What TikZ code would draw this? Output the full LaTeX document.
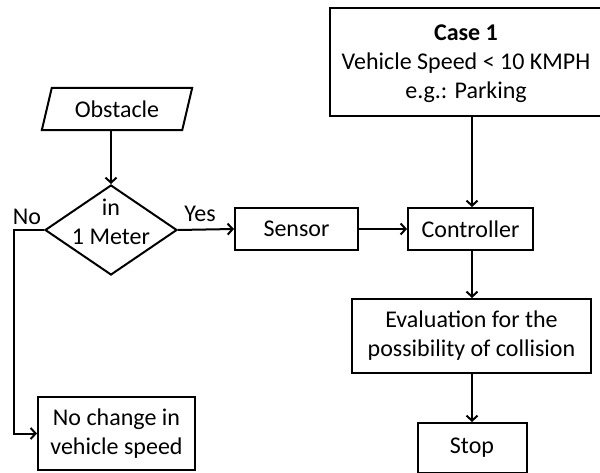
\documentclass[tikz,border=0pt]{standalone}
\usepackage{fontspec}
\setmainfont{Carlito}
\usetikzlibrary{shapes.geometric,arrows.meta}
\begin{document}
\begin{tikzpicture}[x=1pt,y=-1pt,
  every node/.style={font=\fontsize{24}{29}\selectfont},
  box/.style={draw,line width=2pt,rectangle,align=center,inner sep=0pt},
  decision/.style={draw,line width=2pt,diamond,inner sep=0pt},
  flow/.style={line width=2pt,-{Straight Barb[length=5pt,width=11pt,line width=2pt]}},
  lbl/.style={inner sep=0pt}]
\useasboundingbox (0,0) rectangle (600,473);
% input (parallelogram drawn around its text node)
\node[inner sep=0pt,minimum width=140pt,minimum height=42pt] (obst) at (117,109) {Obstacle};
\draw[line width=2pt,line join=miter]
  ([xshift=-5pt]obst.south west) -- ([xshift=5pt]obst.north west) --
  ([xshift=5pt]obst.north east) -- ([xshift=-5pt]obst.south east) -- cycle;
% decision
\node[decision,minimum width=132pt,minimum height=90pt] (dec) at (111,230) {};
\node[lbl,align=center] (dectext) at (111,221.5) {in\\1 Meter};
% process boxes
\node[box,minimum width=123pt,minimum height=42pt] (sensor) at (296.5,229) {Sensor};
\node[box,minimum width=125pt,minimum height=42pt] (ctrl) at (470.5,229) {Controller};
\node[box,minimum width=276pt,minimum height=108pt] (case) at (468,62) {};
\node[lbl,align=center] (casetext) at (466,64)
      {\textbf{Case 1}\\Vehicle Speed < 10 KMPH\\e.g.: Parking};
\node[box,minimum width=239pt,minimum height=74pt] (eval) at (471.5,336)
      {Evaluation for the\\possibility of collision};
\node[box,minimum width=109pt,minimum height=50pt] (stop) at (472,448) {Stop};
\node[box,minimum width=157pt,minimum height=73pt] (nochg) at (116.5,433.5)
      {No change in\\vehicle speed};
% branch labels
\node[lbl] (yes) at (200,214) {Yes};
\node[lbl] (no) at (27,217) {No};
% connectors
\coordinate (vx) at (472,0);
\coordinate (nox) at (14,0);
\draw[flow] (obst.south -| dec) -- (dec.north);
\draw[flow] (dec.east) -- (sensor.west);
\draw[flow] (sensor.east) -- (ctrl.west);
\draw[flow] (case.south -| vx) -- (ctrl.north -| vx);
\draw[flow] (ctrl.south -| vx) -- (eval.north -| vx);
\draw[flow] (eval.south -| vx) -- (stop.north -| vx);
\draw[flow] (dec.west) -- (dec.west -| nox) |- (nochg.west);
\end{tikzpicture}
\end{document}
